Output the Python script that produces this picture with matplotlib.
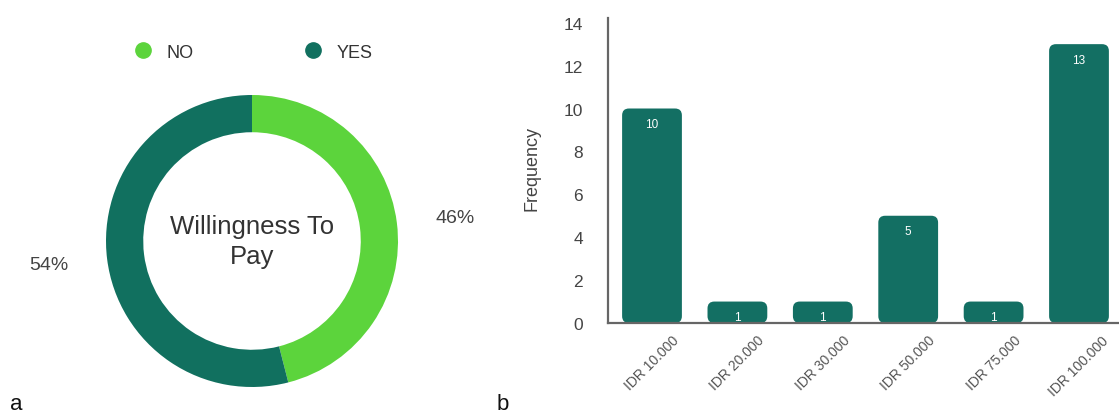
import matplotlib
matplotlib.use("Agg")
import matplotlib.pyplot as plt
from matplotlib.lines import Line2D
from matplotlib.patches import FancyBboxPatch

plt.rcParams['font.family'] = ['Liberation Sans', 'DejaVu Sans']

# Willingness to pay (donut)
wtp_labels = ['NO', 'YES']
wtp_pct = [46, 54]
wtp_colors = ['#5CD43C', '#11705F']

# Price preference (bar chart)
price_labels = ['IDR 10.000', 'IDR 20.000', 'IDR 30.000', 'IDR 50.000', 'IDR 75.000', 'IDR 100.000']
price_freq = [10, 1, 1, 5, 1, 13]
bar_color = '#136F63'

W, H = 1119, 414
fig = plt.figure(figsize=(W / 100, H / 100), dpi=100)

# --- a: donut ---
cx, cy, r = 252, 242, 146
ax1 = fig.add_axes([(cx - r) / W, (H - cy - r) / H, 2 * r / W, 2 * r / H])
ax1.pie(wtp_pct, labels=[f'{v}%' for v in wtp_pct], colors=wtp_colors,
        startangle=90, counterclock=False, labeldistance=1.27,
        wedgeprops=dict(width=0.255, linewidth=0),
        textprops=dict(fontsize=14, color='#444444'))
ax1.set_xlim(-1, 1)
ax1.set_ylim(-1, 1)
ax1.set_aspect('equal')
ax1.axis('off')
ax1.text(0, 0, 'Willingness To\nPay', ha='center', va='center',
         fontsize=18.5, color='#333333', linespacing=1.3)

handles = [Line2D([], [], marker='o', linestyle='none', markersize=11,
                  markerfacecolor=c, markeredgecolor=c) for c in wtp_colors]
fig.legend(handles, wtp_labels, loc='center', bbox_to_anchor=(249 / W, 1 - 53 / H),
           ncol=2, frameon=False, fontsize=13, handletextpad=0.3,
           columnspacing=5.6, labelcolor='#333333')

# --- b: bar chart ---
x0, y0 = 608, 324
unit_x, unit_y = 85.4, 21.45
ax2 = fig.add_axes([x0 / W, (H - y0) / H, (W - x0) / W, 14.2 * unit_y / H])
pos = list(range(len(price_freq)))
bars = ax2.bar(pos, price_freq, width=0.70, color=bar_color)

# swap the plain rectangles for rounded ones
for b in bars:
    b.set_visible(False)
    rounded = FancyBboxPatch((b.get_x(), 0), b.get_width(), b.get_height(),
                             boxstyle='round,pad=0,rounding_size=0.08',
                             mutation_aspect=unit_x / unit_y,
                             facecolor=bar_color, edgecolor='none')
    ax2.add_patch(rounded)
    ax2.text(b.get_x() + b.get_width() / 2, b.get_height() - 0.45,
             f'{int(b.get_height())}', ha='center', va='top',
             fontsize=8.5, color='white')

ax2.set_xlim((x0 - 652) / unit_x, (W - 652) / unit_x)
ax2.set_ylim(0, 14.2)
ax2.set_yticks(range(0, 15, 2))
ax2.set_xticks(pos)
ax2.set_xticklabels(price_labels, rotation=45, ha='center', va='top',
                    fontsize=10, color='#555555')
ax2.tick_params(axis='y', length=0, pad=18, labelsize=12.5, labelcolor='#444444')
ax2.tick_params(axis='x', length=0, pad=7)
ax2.set_ylabel('Frequency', fontsize=13, color='#444444')
ax2.yaxis.set_label_coords((540 - x0) / (W - x0), 0.51)
for s in ['top', 'right']:
    ax2.spines[s].set_visible(False)
for s in ['left', 'bottom']:
    ax2.spines[s].set_color('#666666')
    ax2.spines[s].set_linewidth(1.6)

fig.text(10 / W, 4 / H, 'a', fontsize=16, color='#111111')
fig.text(497 / W, 4 / H, 'b', fontsize=16, color='#111111')

fig.savefig('out.png', dpi=100)
